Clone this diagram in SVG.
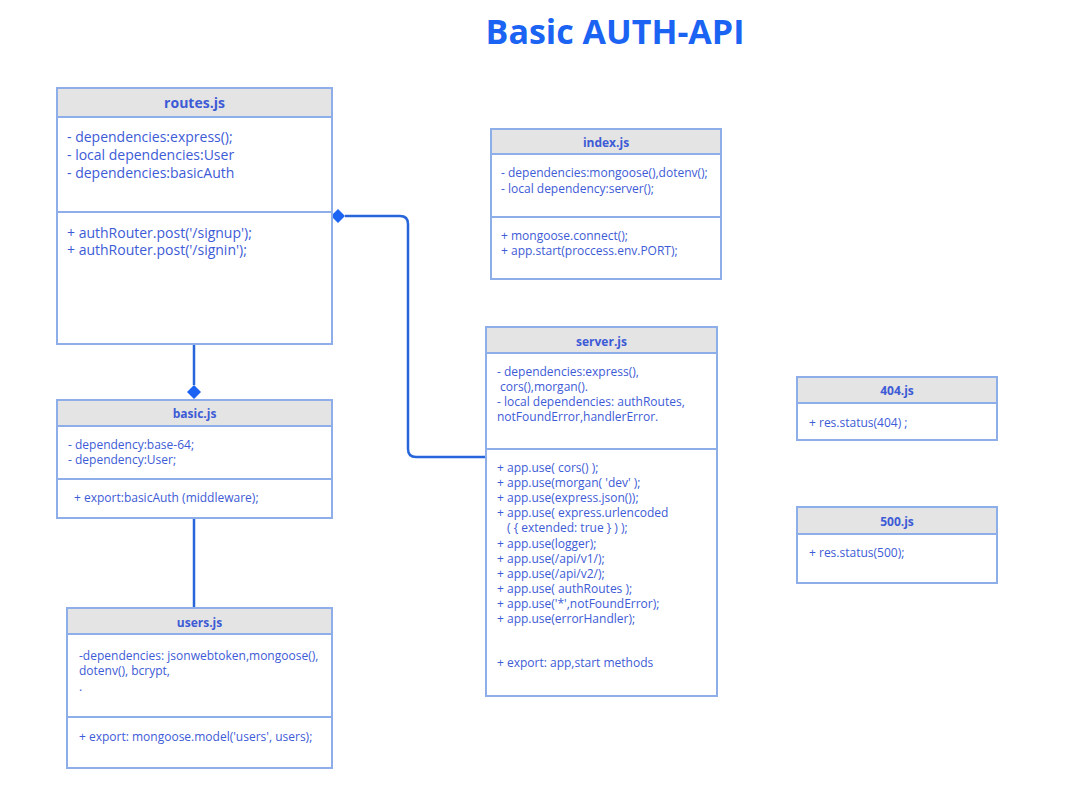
<svg xmlns="http://www.w3.org/2000/svg" width="1083" height="812" viewBox="0 0 1083 812">
<style>
text{font-family:"Open Sans","Liberation Sans",sans-serif;fill:#3d5bd6}
.box{fill:#ffffff;stroke:#8eaee9;stroke-width:2}
.hdr{fill:#e4e4e4;stroke:#8eaee9;stroke-width:2}
.div{stroke:#8eaee9;stroke-width:2}
.t{font-weight:bold;font-size:12px;text-anchor:middle}
.t2{font-weight:bold;font-size:14px;text-anchor:middle}
.s{font-size:12px}
.m{font-size:14px}
.conn{fill:none;stroke:#2765da;stroke-width:2.5}
.dia{fill:#1b63f2}
</style>
<rect width="1083" height="812" fill="#ffffff"/>
<text x="615" y="44" style="font-size:34px;font-weight:bold;fill:#1b63f2;text-anchor:middle">Basic AUTH-API</text>

<g id="connectors">
<path class="conn" d="M345 216 H400 Q408 216 408 224 V449 Q408 457 416 457 H486"/>
<polygon class="dia" points="331,216 338,209 345,216 338,223"/>
<path class="conn" d="M194 344 V385"/>
<polygon class="dia" points="194,385 201,392 194,399 187,392"/>
<path class="conn" d="M194 518 V608"/>
</g>

<g id="routes">
<rect class="box" x="57" y="88" width="275" height="256"/>
<rect class="hdr" x="57" y="88" width="275" height="29"/>
<line class="div" x1="57" y1="212" x2="332" y2="212"/>
<text class="t2" x="194.5" y="108">routes.js</text>
<text class="m" x="67" y="142">- dependencies:express();</text>
<text class="m" x="67" y="160">- local dependencies:User</text>
<text class="m" x="67" y="178">- dependencies:basicAuth</text>
<text class="m" x="67" y="238">+ authRouter.post('/signup');</text>
<text class="m" x="67" y="255">+ authRouter.post('/signin');</text>
</g>

<g id="basic">
<rect class="box" x="57" y="400" width="275" height="118"/>
<rect class="hdr" x="57" y="400" width="275" height="26"/>
<line class="div" x1="57" y1="479" x2="332" y2="479"/>
<text class="t" x="194.5" y="418">basic.js</text>
<text class="s" x="68" y="449">- dependency:base-64;</text>
<text class="s" x="68" y="464">- dependency:User;</text>
<text class="s" x="74" y="502">+ export:basicAuth (middleware);</text>
</g>

<g id="users">
<rect class="box" x="67" y="608" width="265" height="160"/>
<rect class="hdr" x="67" y="608" width="265" height="26"/>
<line class="div" x1="67" y1="717" x2="332" y2="717"/>
<text class="t" x="199.5" y="627">users.js</text>
<text class="s" x="79" y="660">-dependencies: jsonwebtoken,mongoose(),</text>
<text class="s" x="79" y="675">dotenv(), bcrypt,</text>
<text class="s" x="79" y="691">.</text>
<text class="s" x="79" y="741">+ export: mongoose.model('users', users);</text>
</g>

<g id="index">
<rect class="box" x="491" y="129" width="230" height="150"/>
<rect class="hdr" x="491" y="129" width="230" height="25"/>
<line class="div" x1="491" y1="217" x2="721" y2="217"/>
<text class="t" x="606" y="147">index.js</text>
<text class="s" x="501" y="177">- dependencies:mongoose(),dotenv();</text>
<text class="s" x="501" y="193">- local dependency:server();</text>
<text class="s" x="501" y="240">+ mongoose.connect();</text>
<text class="s" x="501" y="255">+ app.start(proccess.env.PORT);</text>
</g>

<g id="server">
<rect class="box" x="486" y="327" width="231" height="369"/>
<rect class="hdr" x="486" y="327" width="231" height="26"/>
<line class="div" x1="486" y1="449" x2="717" y2="449"/>
<text class="t" x="601.5" y="346">server.js</text>
<text class="s" x="497" y="376">- dependencies:express(),</text>
<text class="s" x="497" y="391" xml:space="preserve"> cors(),morgan().</text>
<text class="s" x="497" y="406">- local dependencies: authRoutes,</text>
<text class="s" x="497" y="421">notFoundError,handlerError.</text>
<text class="s" x="497" y="472">+ app.use( cors() );</text>
<text class="s" x="497" y="487">+ app.use(morgan( 'dev' );</text>
<text class="s" x="497" y="502">+ app.use(express.json());</text>
<text class="s" x="497" y="517">+ app.use( express.urlencoded</text>
<text class="s" x="507" y="532">( { extended: true } ) );</text>
<text class="s" x="497" y="548">+ app.use(logger);</text>
<text class="s" x="497" y="563">+ app.use(/api/v1/);</text>
<text class="s" x="497" y="578">+ app.use(/api/v2/);</text>
<text class="s" x="497" y="593">+ app.use( authRoutes );</text>
<text class="s" x="497" y="608">+ app.use('*',notFoundError);</text>
<text class="s" x="497" y="623">+ app.use(errorHandler);</text>
<text class="s" x="497" y="667">+ export: app,start methods</text>
</g>

<g id="e404">
<rect class="box" x="797" y="377" width="200" height="63"/>
<rect class="hdr" x="797" y="377" width="200" height="26"/>
<text class="t" x="897" y="395">404.js</text>
<text class="s" x="809" y="427">+ res.status(404) ;</text>
</g>

<g id="e500">
<rect class="box" x="797" y="507" width="200" height="76"/>
<rect class="hdr" x="797" y="507" width="200" height="27"/>
<text class="t" x="897" y="526">500.js</text>
<text class="s" x="809" y="557">+ res.status(500);</text>
</g>
</svg>
